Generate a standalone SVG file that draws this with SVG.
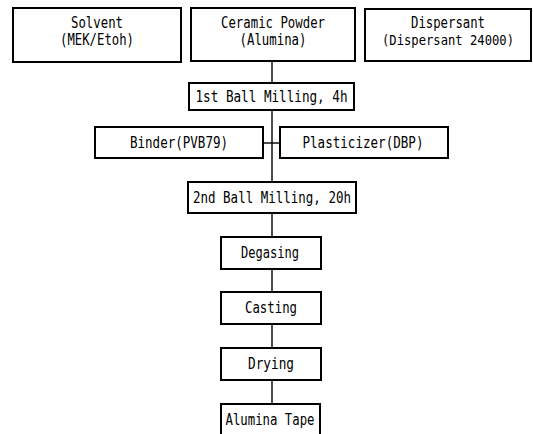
<svg xmlns="http://www.w3.org/2000/svg" width="533" height="434" viewBox="0 0 533 434">
<style>
rect{fill:#fff;stroke:#000;stroke-width:2}
text{font-family:"DejaVu Sans Mono","Liberation Mono",monospace;font-size:15px;fill:#000;text-anchor:middle}
.c line{stroke:#000;stroke-width:1.4}
</style>
<rect x="0" y="0" width="533" height="434" style="stroke:none"/>
<g class="c" id="connectors">
<line x1="272" y1="61" x2="272" y2="83"/>
<line x1="272" y1="110" x2="272" y2="182"/>
<line x1="263" y1="143" x2="280" y2="143"/>
<line x1="272" y1="213" x2="272" y2="237"/>
<line x1="272" y1="269" x2="272" y2="292"/>
<line x1="272" y1="324" x2="272" y2="348"/>
<line x1="272" y1="380" x2="272" y2="404"/>
</g>
<g id="solvent"><rect x="13" y="8" width="168" height="54"/>
<text x="97" y="28" textLength="52" lengthAdjust="spacingAndGlyphs">Solvent</text>
<text x="97" y="45" textLength="74" lengthAdjust="spacingAndGlyphs">(MEK/Etoh)</text></g>
<g id="ceramic"><rect x="191" y="8" width="164" height="53"/>
<text x="273" y="28" textLength="104" lengthAdjust="spacingAndGlyphs">Ceramic Powder</text>
<text x="273" y="45" textLength="67" lengthAdjust="spacingAndGlyphs">(Alumina)</text></g>
<g id="dispersant"><rect x="365" y="9" width="166" height="52"/>
<text x="448" y="28" textLength="74" lengthAdjust="spacingAndGlyphs">Dispersant</text>
<text x="448" y="45" style="font-size:14px" textLength="132" lengthAdjust="spacingAndGlyphs">(Dispersant 24000)</text></g>
<g id="milling1"><rect x="189" y="83" width="165" height="27"/>
<text x="271.5" y="101.5" textLength="152" lengthAdjust="spacingAndGlyphs">1st Ball Milling, 4h</text></g>
<g id="binder"><rect x="95" y="127" width="168" height="31"/>
<text x="179" y="147.5" textLength="98" lengthAdjust="spacingAndGlyphs">Binder(PVB79)</text></g>
<g id="plasticizer"><rect x="280" y="127" width="168" height="31"/>
<text x="363" y="147.5" textLength="121" lengthAdjust="spacingAndGlyphs">Plasticizer(DBP)</text></g>
<g id="milling2"><rect x="188" y="182" width="168" height="31"/>
<text x="272" y="202.5" textLength="158" lengthAdjust="spacingAndGlyphs">2nd Ball Milling, 20h</text></g>
<g id="degasing"><rect x="221" y="237" width="100" height="32"/>
<text x="270" y="258" textLength="58" lengthAdjust="spacingAndGlyphs">Degasing</text></g>
<g id="casting"><rect x="221" y="292" width="100" height="32"/>
<text x="271" y="313" textLength="52" lengthAdjust="spacingAndGlyphs">Casting</text></g>
<g id="drying"><rect x="221" y="348" width="100" height="32"/>
<text x="271" y="369" textLength="46" lengthAdjust="spacingAndGlyphs">Drying</text></g>
<g id="tape"><rect x="221" y="404" width="99" height="34"/>
<text x="270" y="425" textLength="89" lengthAdjust="spacingAndGlyphs">Alumina Tape</text></g>
</svg>
